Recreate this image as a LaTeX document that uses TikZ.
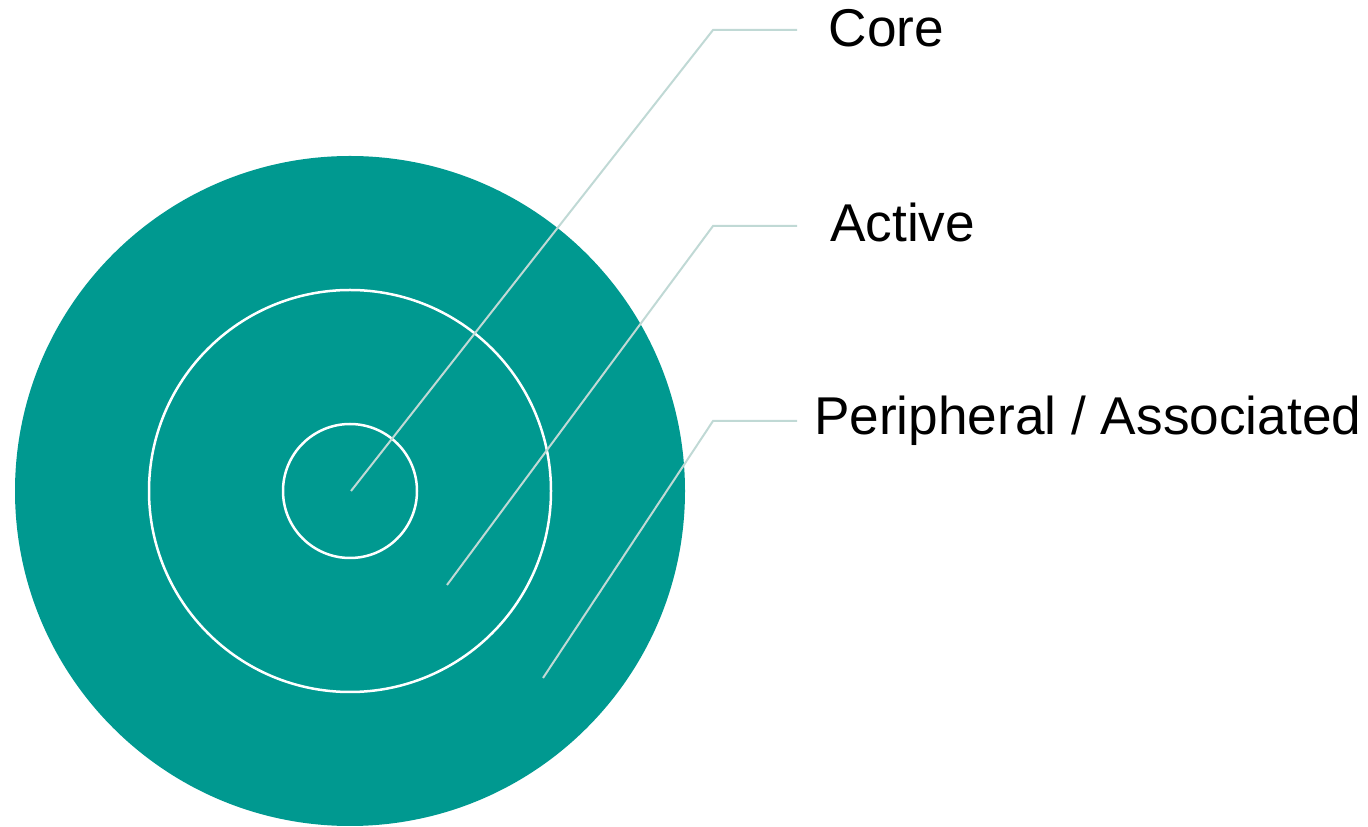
\documentclass[tikz,border=0pt]{standalone}
\usepackage{fontspec}
\setmainfont{Liberation Sans}
\definecolor{ringteal}{RGB}{0,153,144}
\definecolor{leadergray}{RGB}{192,217,213}
\begin{document}
\begin{tikzpicture}[x=1pt,y=1pt,
	leader/.style={draw=leadergray, line width=2pt},
	ringlabel/.style={anchor=base west, inner sep=0pt, font=\fontsize{53.2}{60}\selectfont}]
	\useasboundingbox (0,0) rectangle (1368,827);
	
	\def\cx{350}
	\def\cy{336}
	
	% rings
	\fill[ringteal] (\cx,\cy) circle(335);
	\draw[white, line width=2.5pt] (\cx,\cy) circle(201);
	\draw[white, line width=2.5pt] (\cx,\cy) circle(67);
	
	% leader points
	\coordinate (corept) at (351,336);
	\coordinate (corebend) at (713,797);
	\coordinate (coreend) at (797,797);
	\coordinate (activept) at (447,242);
	\coordinate (activebend) at (713,601);
	\coordinate (activeend) at (797,601);
	\coordinate (periphpt) at (543,149);
	\coordinate (periphbend) at (713,406);
	\coordinate (periphend) at (797,406);
	
	\draw[leader] (corept) -- (corebend) -- (coreend);
	\draw[leader] (activept) -- (activebend) -- (activeend);
	\draw[leader] (periphpt) -- (periphbend) -- (periphend);
	
	% labels
	\node[ringlabel] (core) at (828.5,780) {Core};
	\node[ringlabel] (active) at (830,585) {Active};
	\node[ringlabel] (periph) at (814,392) {Peripheral / Associated};
\end{tikzpicture}
\end{document}
